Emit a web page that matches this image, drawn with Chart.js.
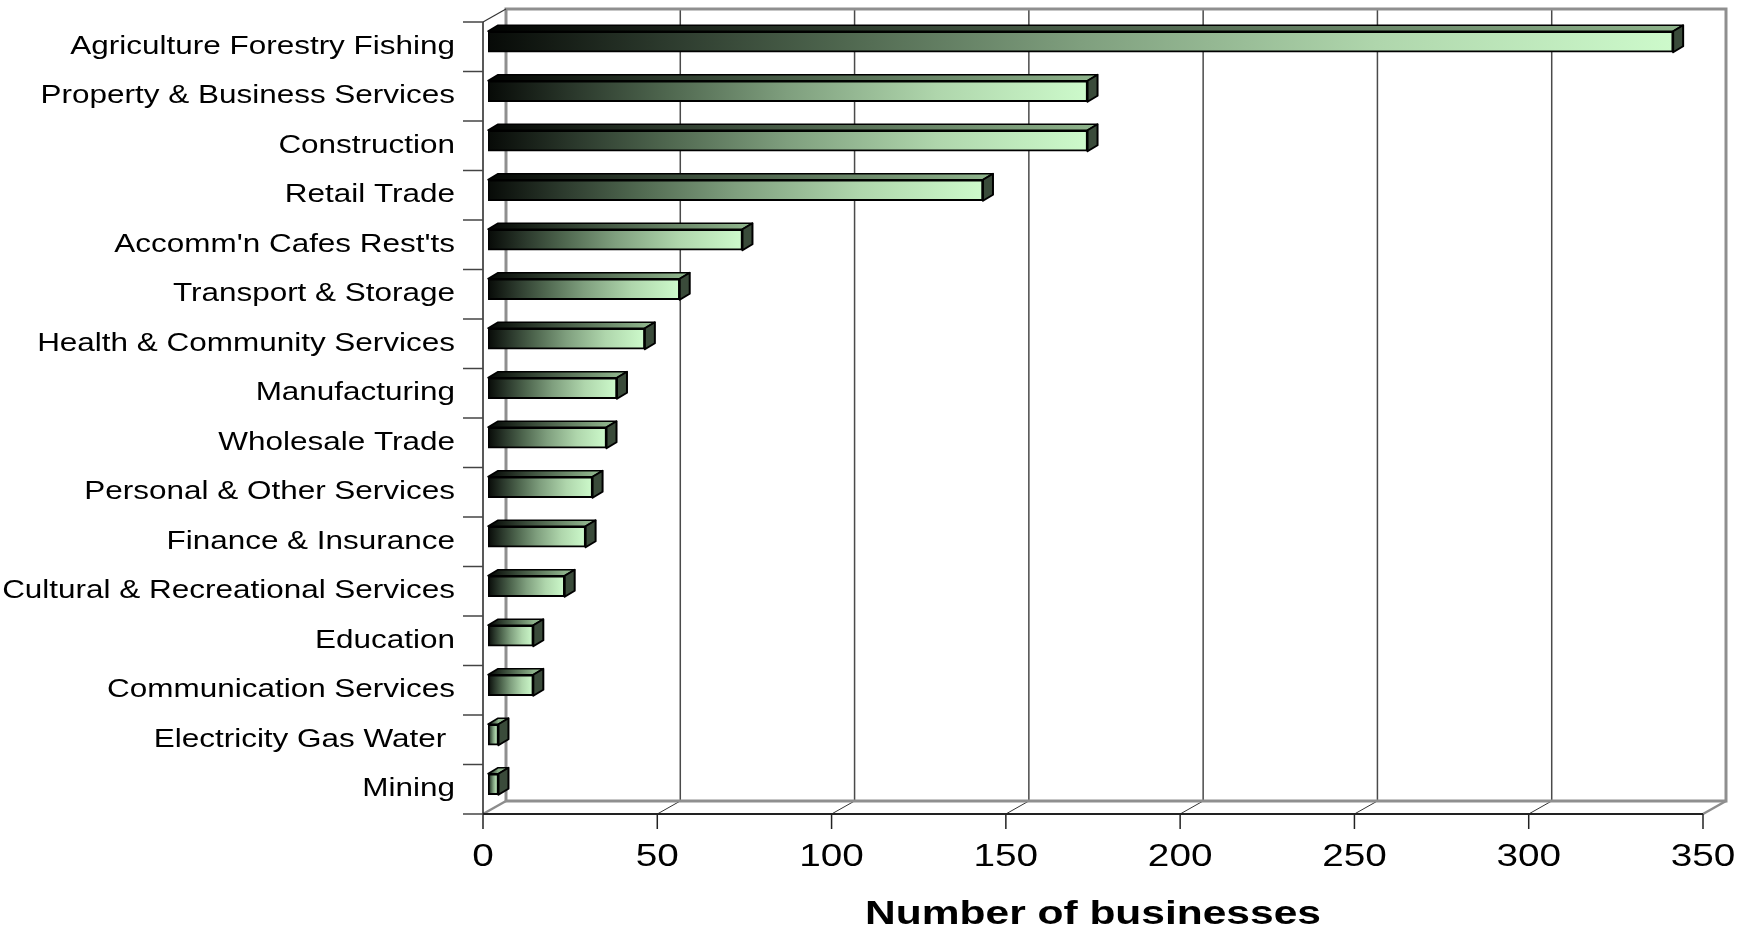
<!DOCTYPE html>
<html>
<head>
<meta charset="utf-8">
<title>Businesses by industry</title>
<script src="https://cdn.jsdelivr.net/npm/chart.js@4.4.0/dist/chart.umd.min.js"></script>
<style>
    html, body { margin: 0; padding: 0; background: #fff; }
    canvas { display: block; }
</style>
</head>
<body>
<canvas id="barChart" width="1750" height="927"></canvas>
<script>
var categories = [
    'Agriculture Forestry Fishing',
    'Property & Business Services',
    'Construction',
    'Retail Trade',
    "Accomm'n Cafes Rest'ts",
    'Transport & Storage',
    'Health & Community Services',
    'Manufacturing',
    'Wholesale Trade',
    'Personal & Other Services',
    'Finance & Insurance',
    'Cultural & Recreational Services',
    'Education',
    'Communication Services',
    'Electricity Gas Water ',
    'Mining'
];
var businesses = [340, 172, 172, 142, 73, 55, 45, 37, 34, 30, 28, 22, 13, 13, 3, 3];
var xTicks = [0, 50, 100, 150, 200, 250, 300, 350];
var xTitle = 'Number of businesses';

// offsets of the fake 3d box, measured from the plane the bars sit in
var BACK = { dx: 18, dy: -8 };
var FRONT = { dx: -5, dy: 5 };
var DEPTH = { dx: 10, dy: -6 };
var FONT = "'Liberation Sans', Arial, sans-serif";
var STRETCH = 1.21;

var line = (ctx, x1, y1, x2, y2, color, width) => {
    ctx.save();
    ctx.strokeStyle = color;
    ctx.lineWidth = width;
    ctx.beginPath();
    ctx.moveTo(x1, y1);
    ctx.lineTo(x2, y2);
    ctx.stroke();
    ctx.restore();
};

// text is drawn a little wider than the font, like the old office export
var wideText = (ctx, text, x, y, font, align, stretch) => {
    ctx.save();
    ctx.font = font;
    ctx.fillStyle = '#000';
    ctx.textAlign = align;
    ctx.textBaseline = 'middle';
    ctx.translate(x, y);
    ctx.scale(stretch || STRETCH, 1);
    ctx.fillText(text, 0, 0);
    ctx.restore();
};

var frontGradient = (ctx, x0, x1) => {
    var g = ctx.createLinearGradient(x0, 0, x1, 0);
    g.addColorStop(0, '#070a07');
    g.addColorStop(0.15, '#2c3a2d');
    g.addColorStop(0.3, '#4f674f');
    g.addColorStop(0.5, '#7f9f7e');
    g.addColorStop(0.75, '#afd6ac');
    g.addColorStop(1, '#cdfacb');
    return g;
};

var topGradient = (ctx, x0, x1) => {
    var g = ctx.createLinearGradient(x0, 0, x1, 0);
    g.addColorStop(0, '#030503');
    g.addColorStop(0.4, '#3b4d3b');
    g.addColorStop(1, '#8db28a');
    return g;
};

var box3d = {
    id: 'box3d',
    beforeDatasetsDraw: (chart) => {
        var ctx = chart.ctx, a = chart.chartArea, xs = chart.scales.x;
        var x0 = xs.getPixelForValue(xs.min), x1 = xs.getPixelForValue(xs.max);

        // back wall gridlines and the floor lines running to them
        xs.ticks.forEach((t) => {
            var px = xs.getPixelForValue(t.value);
            var inner = t.value > xs.min && t.value < xs.max;
            if (inner) {
                line(ctx, px + BACK.dx, a.top + BACK.dy, px + BACK.dx, a.bottom + BACK.dy, '#4a4a4a', 1.5);
            }
            line(ctx, px + FRONT.dx, a.bottom + FRONT.dy, px + BACK.dx, a.bottom + BACK.dy,
                inner ? '#333' : '#8c8c8c', inner ? 1 : 2.5);
            // tick mark under the value axis
            line(ctx, px + FRONT.dx, a.bottom + FRONT.dy, px + FRONT.dx, a.bottom + FRONT.dy + 15, '#222', 1.5);
        });

        // frame of the back wall
        ctx.save();
        ctx.strokeStyle = '#8f8f8f';
        ctx.lineWidth = 3;
        ctx.beginPath();
        ctx.moveTo(x0 + BACK.dx, a.bottom + BACK.dy);
        ctx.lineTo(x0 + BACK.dx, a.top + BACK.dy);
        ctx.lineTo(x1 + BACK.dx, a.top + BACK.dy);
        ctx.lineTo(x1 + BACK.dx, a.bottom + BACK.dy);
        ctx.closePath();
        ctx.stroke();
        ctx.restore();

        // front axes
        line(ctx, x0 + FRONT.dx, a.top + FRONT.dy, x0 + BACK.dx, a.top + BACK.dy, '#333', 1.2);
        line(ctx, x0 + FRONT.dx, a.top + FRONT.dy, x0 + FRONT.dx, a.bottom + FRONT.dy, '#222', 1.5);
        line(ctx, x0 + FRONT.dx, a.bottom + FRONT.dy, x1 + FRONT.dx, a.bottom + FRONT.dy, '#222', 2);

        // category tick marks between the bands
        var band = (a.bottom - a.top) / categories.length;
        for (var i = 0; i <= categories.length; i++) {
            var yb = a.top + i * band + FRONT.dy;
            line(ctx, x0 + FRONT.dx - 20, yb, x0 + FRONT.dx, yb, '#444', 1.5);
        }
    },
    afterDatasetsDraw: (chart) => {
        var ctx = chart.ctx;
        chart.getDatasetMeta(0).data.forEach((bar) => {
            var p = bar.getProps(['x', 'y', 'base', 'height'], true);
            var top = p.y - p.height / 2, bottom = p.y + p.height / 2;

            ctx.save();
            ctx.lineJoin = 'round';
            ctx.strokeStyle = '#000';

            // top face
            ctx.beginPath();
            ctx.moveTo(p.base, top);
            ctx.lineTo(p.base + DEPTH.dx, top + DEPTH.dy);
            ctx.lineTo(p.x + DEPTH.dx, top + DEPTH.dy);
            ctx.lineTo(p.x, top);
            ctx.closePath();
            ctx.fillStyle = topGradient(ctx, p.base, p.x);
            ctx.fill();
            ctx.lineWidth = 1.5;
            ctx.stroke();

            // end face
            ctx.beginPath();
            ctx.moveTo(p.x, top);
            ctx.lineTo(p.x + DEPTH.dx, top + DEPTH.dy);
            ctx.lineTo(p.x + DEPTH.dx, bottom + DEPTH.dy);
            ctx.lineTo(p.x, bottom);
            ctx.closePath();
            ctx.fillStyle = '#3a4b3a';
            ctx.fill();
            ctx.lineWidth = 2;
            ctx.stroke();
            ctx.restore();
        });
    },
    afterDraw: (chart) => {
        var ctx = chart.ctx, a = chart.chartArea, xs = chart.scales.x, ys = chart.scales.y;
        var x0 = xs.getPixelForValue(xs.min), x1 = xs.getPixelForValue(xs.max);

        categories.forEach((label, i) => {
            wideText(ctx, label, x0 + FRONT.dx - 28, ys.getPixelForTick(i) + 5, '26px ' + FONT, 'right');
        });

        xs.ticks.forEach((t) => {
            wideText(ctx, String(t.value), xs.getPixelForValue(t.value) + FRONT.dx, a.bottom + 48, '32px ' + FONT, 'center');
        });

        wideText(ctx, xTitle, (x0 + x1) / 2 + FRONT.dx, a.bottom + 106, 'bold 34px ' + FONT, 'center', 1.25);
    }
};

var main = () => {
    var Bar = document.getElementById('barChart');

    var barData = {
        labels: categories,
        datasets: [{
            data: businesses,
            barThickness: 21,
            borderColor: '#000',
            borderWidth: 2,
            borderSkipped: false,
            backgroundColor: (c) => {
                var chart = c.chart, xs = chart.scales.x;
                if (!chart.chartArea || !xs) return '#8fb08f';
                return frontGradient(chart.ctx, xs.getPixelForValue(0), xs.getPixelForValue(c.raw));
            }
        }]
    };

    new Chart(Bar, {
        type: 'bar',
        data: barData,
        options: {
            indexAxis: 'y',
            responsive: false,
            devicePixelRatio: 1,
            animation: false,
            layout: {
                padding: { left: 488, right: 42, top: 17, bottom: 118 }
            },
            scales: {
                x: {
                    type: 'linear',
                    display: false,
                    min: 0,
                    max: 350,
                    afterBuildTicks: (scale) => {
                        scale.ticks = xTicks.map((v) => ({ value: v }));
                    }
                },
                y: {
                    type: 'category',
                    display: false
                }
            },
            plugins: {
                legend: { display: false },
                tooltip: { enabled: false }
            }
        },
        plugins: [box3d]
    });
};

main();
</script>
</body>
</html>
